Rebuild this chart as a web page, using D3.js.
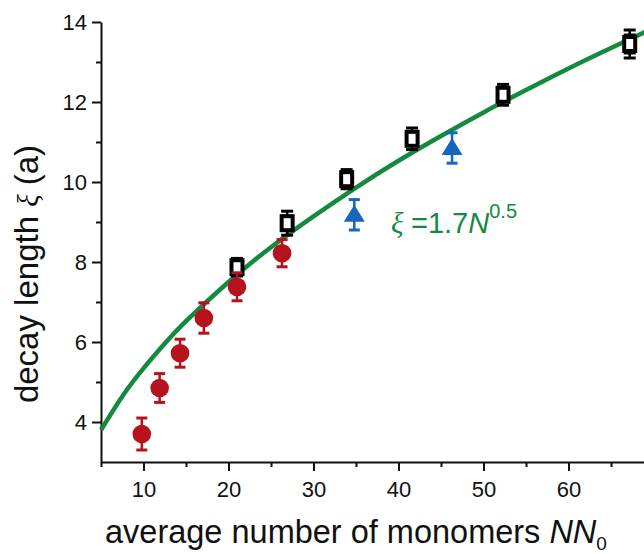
<!DOCTYPE html>
<html>
<head>
<meta charset="utf-8">
<script src="https://cdn.jsdelivr.net/npm/d3@7/dist/d3.min.js"></script>
<style>
  html, body { margin: 0; padding: 0; background: #fff; }
  svg { display: block; }
  text { font-family: "Liberation Sans", Arial, Helvetica, sans-serif; }
</style>
</head>
<body>
<svg id="chart" width="644" height="554"></svg>
<script>
// ---- data ----
const redN   = [9.8, 11.9, 14.3, 17.1, 21.0, 26.3];
const redXi  = [3.70, 4.85, 5.72, 6.60, 7.38, 8.22];
const redErr = [0.40, 0.36, 0.35, 0.38, 0.35, 0.34];

const squareN   = [21.0, 26.9, 33.9, 41.6, 52.3, 67.2];
const squareXi  = [7.87, 8.97, 10.07, 11.08, 12.18, 13.45];
const squareErr = [0.34, 0.42, 0.36, 0.39, 0.38, 0.47];

const triN   = [34.8, 46.3];
const triXi  = [9.18, 10.85];
const triErr = [0.38, 0.38];

// fit curve as drawn in the picture
const fitN  = [5, 7.5, 10, 12.5, 15, 20, 25, 30, 35, 40, 45, 50, 55, 60, 65, 70];
const fitXi = [3.80, 4.64, 5.34, 5.96, 6.52, 7.50, 8.37, 9.14, 9.86, 10.53, 11.15, 11.74, 12.30, 12.84, 13.35, 13.85];

const xMajorTicks = [10, 20, 30, 40, 50, 60];
const xMinorTicks = [5, 15, 25, 35, 45, 55, 65];
const yMajorTicks = [4, 6, 8, 10, 12, 14];
const yMinorTicks = [5, 7, 9, 11, 13];

// ---- styles ----
const RED = "#b5121d", BLUE = "#1765bd", GREEN = "#138a3f";

const svg = d3.select("#chart");
const x = d3.scaleLinear().domain([5, 70]).range([101, 653.5]);
const y = d3.scaleLinear().domain([3, 14]).range([462, 22]);

// axes
const gx = svg.append("g").attr("transform", `translate(0,${y(3)})`);
gx.call(d3.axisBottom(x).tickValues(xMajorTicks).tickSize(9).tickPadding(10).tickSizeOuter(0));
gx.append("g").call(d3.axisBottom(x).tickValues(xMinorTicks).tickSize(5).tickFormat("").tickSizeOuter(0))
  .select(".domain").remove();

const gy = svg.append("g").attr("transform", `translate(${x(5)},0)`);
gy.call(d3.axisLeft(y).tickValues(yMajorTicks).tickSize(9).tickPadding(5).tickSizeOuter(0));
gy.append("g").call(d3.axisLeft(y).tickValues(yMinorTicks).tickSize(5).tickFormat("").tickSizeOuter(0))
  .select(".domain").remove();

svg.selectAll(".domain, .tick line").attr("stroke", "#111").attr("stroke-width", 2);
svg.selectAll(".tick text").attr("font-size", 22).attr("fill", "#111")
  .attr("font-family", "'Liberation Sans', Arial, sans-serif");

// fit curve
svg.append("path")
  .attr("d", d3.line().curve(d3.curveNatural).x((d, i) => x(d)).y((d, i) => y(fitXi[i]))(fitN))
  .attr("fill", "none").attr("stroke", GREEN).attr("stroke-width", 4.5);

// helpers
function errorBars(g, ns, vs, es, color, capW, double) {
  ns.forEach((n, i) => {
    const cx = x(n), y0 = y(vs[i] - es[i]), y1 = y(vs[i] + es[i]);
    g.append("line").attr("x1", cx).attr("x2", cx).attr("y1", y0).attr("y2", y1)
      .attr("stroke", color).attr("stroke-width", 2.5);
    [y0, y1].forEach((yy, k) => {
      g.append("line").attr("x1", cx - capW / 2).attr("x2", cx + capW / 2)
        .attr("y1", yy).attr("y2", yy).attr("stroke", color).attr("stroke-width", 3);
      if (double) {
        const yi = yy + (k === 0 ? -5 : 5);
        g.append("line").attr("x1", cx - capW / 2).attr("x2", cx + capW / 2)
          .attr("y1", yi).attr("y2", yi).attr("stroke", color).attr("stroke-width", 3);
      }
    });
  });
}

// black squares
const gs = svg.append("g");
errorBars(gs, squareN, squareXi, squareErr.map(e => e - 0.12), "#000", 12, true);
gs.selectAll("rect").data(squareN).join("rect")
  .attr("x", (d) => x(d) - 5.5).attr("y", (d, i) => y(squareXi[i]) - 7)
  .attr("width", 11).attr("height", 14)
  .attr("fill", "#fff").attr("stroke", "#000").attr("stroke-width", 4);

// red circles
const gr = svg.append("g");
errorBars(gr, redN, redXi, redErr, RED, 11, false);
gr.selectAll("circle").data(redN).join("circle")
  .attr("cx", d => x(d)).attr("cy", (d, i) => y(redXi[i])).attr("r", 9.3)
  .attr("fill", RED);

// blue triangles
const gt = svg.append("g");
errorBars(gt, triN, triXi, triErr, BLUE, 11, false);
gt.selectAll("path").data(triN).join("path")
  .attr("d", (d, i) => {
    const cx = x(d), cy = y(triXi[i]);
    return `M${cx},${cy - 10}L${cx + 10.5},${cy + 7}L${cx - 10.5},${cy + 7}Z`;
  })
  .attr("fill", BLUE);

// annotation
const ann = svg.append("text").attr("x", 391).attr("y", 233).attr("fill", GREEN).attr("font-size", 29);
ann.append("tspan").attr("font-family", "'Liberation Serif', 'Times New Roman', serif")
  .attr("font-style", "italic").text("ξ");
ann.append("tspan").attr("x", 411).text("=1.7");
ann.append("tspan").attr("font-style", "italic").text("N");
ann.append("tspan").attr("font-size", 20).attr("dy", -15).text("0.5");

// axis titles
const xt = svg.append("text").attr("x", 105).attr("y", 543).attr("font-size", 32.5).attr("fill", "#111");
xt.append("tspan").text("average number of monomers ");
xt.append("tspan").attr("font-style", "italic").text("NN");
xt.append("tspan").attr("font-size", 19).attr("dy", 7).text("0");

const yt = svg.append("text").attr("transform", "translate(38,274) rotate(-90)")
  .attr("text-anchor", "middle").attr("font-size", 33).attr("fill", "#111");
yt.append("tspan").text("decay length ");
yt.append("tspan").attr("font-family", "'Liberation Serif', 'Times New Roman', serif")
  .attr("font-style", "italic").attr("font-size", 29).text("ξ");
yt.append("tspan").text(" (a)");
</script>
</body>
</html>
